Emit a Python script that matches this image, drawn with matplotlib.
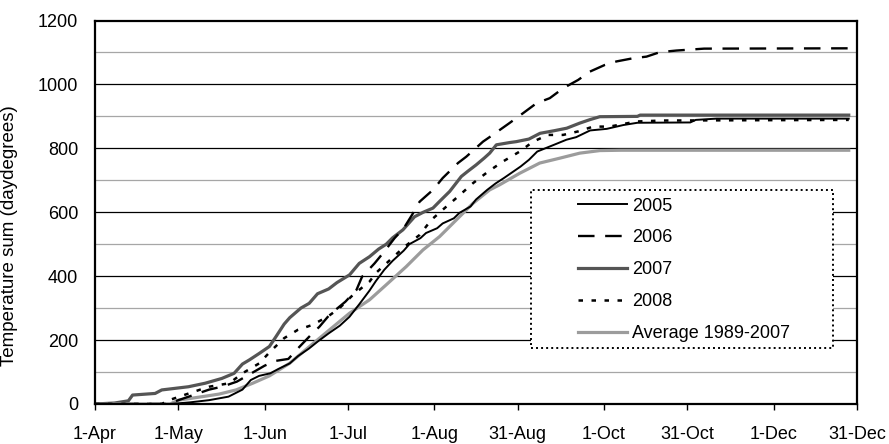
import matplotlib
matplotlib.use("Agg")
import matplotlib.pyplot as plt
from matplotlib.patches import Rectangle

plt.rcParams['font.family'] = ['Liberation Sans', 'DejaVu Sans']

# ================= DATA (day of year, daydegrees) =================
day_2005 = [91, 118, 125, 132, 139, 144, 147, 150, 154, 157, 161, 164, 168, 171, 175, 179,
            182.5, 186, 189.7, 192, 195, 198, 202, 204, 208, 210, 214, 216, 220, 222, 226,
            228, 232, 235, 238, 241, 244, 247, 250, 256, 260.5, 264, 269, 275, 281, 286,
            305, 307, 314.5, 362]
sum_2005 = [0, 0, 5, 12, 23, 45, 75, 88, 96, 110, 127, 150, 174, 195, 221, 245,
            273, 312, 355, 385, 420, 448, 480, 500, 519, 535, 550, 565, 581, 598, 618,
            640, 670, 690, 707, 725, 743, 764, 790, 811, 827, 835, 856, 861, 873, 880,
            881, 889, 893, 893]

day_2006 = [91, 117, 122, 127, 132, 137, 142, 147, 152, 156, 160.5, 164.5, 168.6, 171.7, 175.3,
            181, 185, 187, 191.5, 195, 198.7, 202, 205, 207.7, 212.5, 216, 221.5, 224.5,
            230.5, 234, 240, 244.9, 249.7, 254.5, 259.3, 264.7, 268.9, 274.3, 278.5, 284.5,
            289.3, 294.1, 300, 310, 362]
sum_2006 = [0, 0, 15, 30, 45, 55, 70, 95, 120, 135, 141, 179, 216, 242, 279,
            320, 357, 398, 440, 477, 519, 550, 592, 633, 670, 707, 754, 774,
            821, 842, 879, 910, 941, 957, 988, 1014, 1040, 1061, 1072, 1082,
            1087, 1101, 1106, 1112, 1113]

day_2007 = [91, 98, 103, 104.5, 112.6, 115, 124.6, 130.6, 136.6, 141, 144, 146.5, 150, 153.7,
            156, 159, 161, 165, 168, 171, 175, 178, 182.5, 186, 189.7, 193, 195.7, 198,
            201.7, 205.9, 209, 212.5, 215, 218.5, 222.7, 225, 228, 231, 232.9, 235.3, 240,
            242.5, 247, 251, 256, 260.6, 265.3, 269, 272.5, 286, 287, 362]
sum_2007 = [0, 3, 10, 28, 33, 44, 54, 65, 80, 96, 125, 138, 158, 180,
            210, 250, 270, 300, 315, 345, 360, 380, 404, 440, 461, 485, 500, 520,
            545, 586, 600, 613, 635, 665, 712, 728, 748, 770, 785, 811, 818,
            821, 829, 847, 855, 863, 879, 890, 899, 900, 904, 904]

day_2008 = [91, 115, 117.6, 123, 128.5, 132, 139.3, 144, 150, 154, 159, 163.9, 169, 174.6,
            178.9, 183.7, 189.7, 192, 197, 202, 207.7, 211.9, 216.7, 221.5, 226.9, 232.3,
            237.7, 243.7, 248.5, 253.9, 259.3, 264.7, 270.1, 276, 285.7, 295, 362]
sum_2008 = [0, 0, 12, 28, 44, 54, 65, 96, 127, 164, 206, 232, 247, 273,
            300, 341, 383, 410, 450, 490, 529, 576, 613, 649, 691, 727,
            759, 790, 821, 842, 842, 853, 868, 868, 884, 887, 889]

day_avg = [91, 118, 121, 129.6, 135.6, 141.7, 147.7, 153.7, 160.9, 168, 175.3, 182.5, 189.7,
           195.7, 202.9, 208.9, 214.9, 220.9, 226.9, 232.9, 236.5, 243.7, 250.9, 258, 265.3,
           272.5, 280, 362]
sum_avg = [0, 0, 12, 23, 31, 44, 65, 88, 127, 179, 232, 284, 326,
           373, 430, 482, 524, 576, 628, 670, 686, 722, 754, 769, 785,
           793, 794, 794]

tick_days = [91, 121, 152, 182, 213, 243, 274, 304, 335, 365]
tick_labels = ["1-Apr", "1-May", "1-Jun", "1-Jul", "1-Aug", "31-Aug", "1-Oct",
               "31-Oct", "1-Dec", "31-Dec"]

# ================= FIGURE =================
fig = plt.figure(figsize=(8.89, 4.44), dpi=100)
ax = fig.add_axes([0.1069, 0.0901, 0.8572, 0.8637])

# gridlines
for v in range(100, 1200, 100):
    if v % 200 == 0:
        ax.axhline(v, color="black", linewidth=0.9, zorder=1)
    else:
        ax.axhline(v, color="#a6a6a6", linewidth=0.9, zorder=1)

l05, = ax.plot(day_2005, sum_2005, color="black", linewidth=1.4, zorder=3)
l06, = ax.plot(day_2006, sum_2006, color="black", linewidth=1.7,
               linestyle=(0, (7, 4.5)), zorder=3)
l07, = ax.plot(day_2007, sum_2007, color="#555555", linewidth=2.3, zorder=2)
l08, = ax.plot(day_2008, sum_2008, color="black", linewidth=1.8,
               linestyle=(0, (1.8, 3.4)), zorder=3)
lav, = ax.plot(day_avg, sum_avg, color="#9c9c9c", linewidth=2.3, zorder=2)

ax.set_xlim(91, 365)
ax.set_ylim(0, 1200)
ax.set_yticks(range(0, 1201, 200))
ax.set_xticks(tick_days)
ax.set_xticklabels(tick_labels)
ax.tick_params(axis="y", length=0, pad=12, labelsize=13)
ax.tick_params(axis="x", length=4.5, width=1, direction="out", pad=11, labelsize=13)
for s in ax.spines.values():
    s.set_linewidth(1.6)
    s.set_zorder(5)

ax.set_ylabel("Temperature sum (daydegrees)", fontsize=13.5)
ax.yaxis.set_label_coords(-0.101, 0.44)

# legend box (dotted, white)
box = Rectangle((0.572, 0.146), 0.3965, 0.412, transform=ax.transAxes,
                facecolor="white", edgecolor="black", linestyle=(0, (1, 1.6)),
                linewidth=1.4, zorder=6)
ax.add_patch(box)

leg = ax.legend([l05, l06, l07, l08, lav],
                ["2005", "2006", "2007", "2008", "Average 1989-2007"],
                loc="upper left", bbox_to_anchor=(0.634, 0.538),
                frameon=False, fontsize=13, handlelength=2.7, handletextpad=0.3,
                labelspacing=0.82, borderpad=0, borderaxespad=0)
leg.set_zorder(7)

fig.savefig("out.png", dpi=100)
